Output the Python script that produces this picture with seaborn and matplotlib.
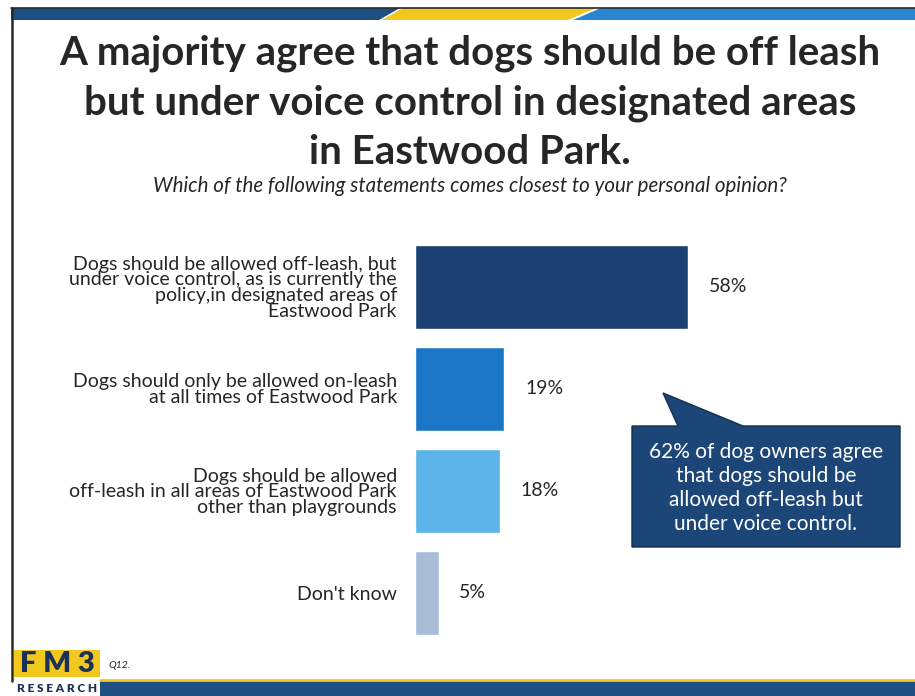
import matplotlib
matplotlib.use("Agg")
import matplotlib.pyplot as plt
import seaborn as sns
import pandas as pd
from matplotlib.patches import Polygon, Rectangle

categories = [
    "Dogs should be allowed off-leash, but\nunder voice control, as is currently the\npolicy,in designated areas of\nEastwood Park",
    "Dogs should only be allowed on-leash\nat all times of Eastwood Park",
    "Dogs should be allowed\noff-leash in all areas of Eastwood Park\nother than playgrounds",
    "Don't know",
]
values = [58, 19, 18, 5]
bar_colors = ["#1a3f70", "#1c76c6", "#5cb4ea", "#a9bcd8"]

title_lines = [
    "A majority agree that dogs should be off leash",
    "but under voice control in designated areas",
    "in Eastwood Park.",
]
subtitle = "Which of the following statements comes closest to your personal opinion?"
callout = "62% of dog owners agree\nthat dogs should be\nallowed off-leash but\nunder voice control."

sns.set_theme(style="white")
plt.rcParams["font.family"] = ["Lato", "DejaVu Sans"]

W, H = 915, 696
fig = plt.figure(figsize=(W / 100, H / 100), dpi=100)

df = pd.DataFrame({"label": categories, "pct": values})

# bar panel, positioned in pixel terms
x0, y_top, y_bot = 415, 236, 644
ax = fig.add_axes([x0 / W, 1 - y_bot / H, 470.7 / W, (y_bot - y_top) / H])
sns.barplot(data=df, x="pct", y="label", hue="label", palette=bar_colors,
            legend=False, width=0.82, ax=ax, saturation=1)
ax.set_xlim(0, 100)
ax.set_ylim(3.5, -0.5)
ax.set_xlabel("")
ax.set_ylabel("")
ax.set_xticks([])
sns.despine(ax=ax, left=True, bottom=True)
ax.tick_params(axis="y", length=0, pad=13)
for t in ax.get_yticklabels():
    t.set_fontsize(14)
    t.set_color("#262626")
    t.set_multialignment("right")
    t.set_linespacing(0.92)
for c in ax.containers:
    ax.bar_label(c, labels=[f"{v:.0f}%" for v in c.datavalues], padding=15,
                 fontsize=14, color="#262626")

# overlay for slide decoration
ov = fig.add_axes([0, 0, 1, 1], zorder=5)
ov.set_xlim(0, W)
ov.set_ylim(H, 0)
ov.axis("off")
ov.patch.set_alpha(0)

# top stripe
ov.add_patch(Polygon([(11, 8), (400, 8), (379, 20), (11, 20)], closed=True,
                     facecolor="#1d4f80", edgecolor="none"))
ov.add_patch(Polygon([(403, 8), (596, 8), (568, 20), (382, 20)], closed=True,
                     facecolor="#f2c81e", edgecolor="none"))
ov.add_patch(Polygon([(601, 8), (915, 8), (915, 20), (573, 20)], closed=True,
                     facecolor="#2a86cf", edgecolor="none"))
ov.plot([11, 915], [7.5, 7.5], color="#2a2a2a", lw=1.2)
# left border
ov.plot([12, 12], [7.5, 681], color="#2a2a2a", lw=1.8)

# bottom band
ov.add_patch(Rectangle((100, 681), 815, 15, facecolor="#1d4f80", edgecolor="none"))
ov.plot([100, 915], [680, 680], color="#f2c81e", lw=2)

# logo
ov.add_patch(Rectangle((14, 650), 86, 27, facecolor="#f2c81e", edgecolor="none"))
ov.text(57, 664, "F M 3", ha="center", va="center", fontsize=21, fontweight="heavy",
        color="#1b3157")
ov.text(57, 689, "R E S E A R C H", ha="center", va="center", fontsize=8.5,
        fontweight="heavy", color="#1b3157")
ov.text(108, 665, "Q12.", ha="left", va="center", fontsize=7.5, fontstyle="italic",
        color="#262626")

# title and subtitle
for i, line in enumerate(title_lines):
    ov.text(470, 53 + 50 * i, line, ha="center", va="center", fontsize=29,
            fontweight="bold", color="#262626")
ov.text(470, 186, subtitle, ha="center", va="center", fontsize=14.8,
        fontstyle="italic", color="#262626")

# callout
ov.add_patch(Polygon([(632, 426), (678, 426), (663, 393), (743, 426), (900, 426),
                      (900, 547), (632, 547)], closed=True,
                     facecolor="#1b4677", edgecolor="#12304f", lw=1))
ov.text(766, 488, callout, ha="center", va="center", fontsize=15, color="white",
        linespacing=1.25)

fig.savefig("out.png", dpi=100)
